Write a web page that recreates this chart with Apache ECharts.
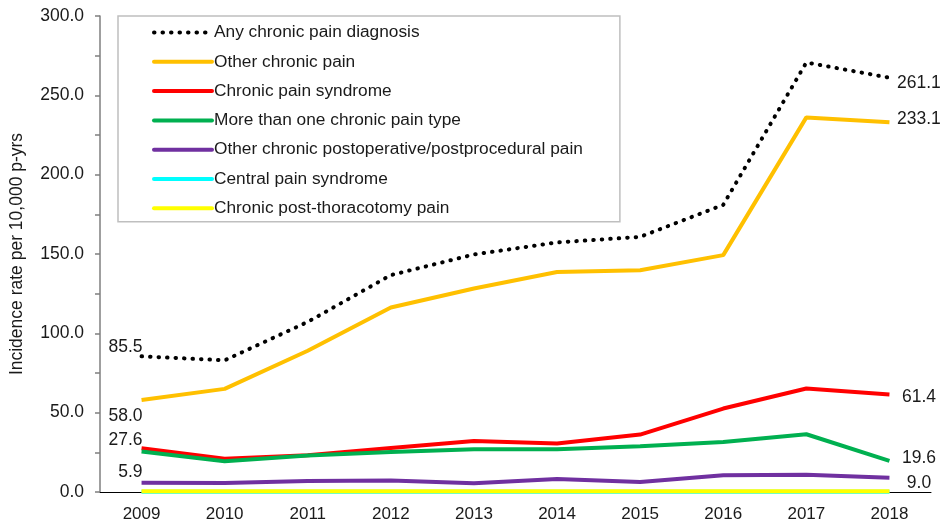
<!DOCTYPE html>
<html>
<head>
<meta charset="utf-8">
<script src="https://cdn.jsdelivr.net/npm/echarts@6/dist/echarts.min.js"></script>
<style>
  html, body { margin: 0; padding: 0; background: #fff; }
  #chart { width: 940px; height: 524px; }
</style>
</head>
<body>
<div id="chart"></div>
<script>
const years = ['2009', '2010', '2011', '2012', '2013', '2014', '2015', '2016', '2017', '2018'];
const anyChronic = [85.5, 83.0, 107.2, 136.7, 149.7, 157.3, 160.8, 181.0, 270.7, 261.1];
const otherChronic = [58.0, 65.0, 89.0, 116.3, 128.3, 138.7, 139.8, 149.3, 236.1, 233.1];
const painSyndrome = [27.6, 21.0, 23.1, 27.8, 32.2, 30.5, 36.2, 52.6, 65.2, 61.4];
const moreThanOne = [25.5, 19.4, 23.0, 25.2, 26.9, 26.9, 28.8, 31.5, 36.4, 19.6];
const postoperative = [5.9, 5.7, 6.9, 7.2, 5.5, 8.2, 6.3, 10.5, 10.8, 9.0];
const centralPain = [0.2, 0.2, 0.2, 0.2, 0.2, 0.2, 0.2, 0.2, 0.2, 0.2];
const postThoracotomy = [0.4, 0.4, 0.4, 0.4, 0.4, 0.4, 0.4, 0.4, 0.4, 0.4];

const names = ['Any chronic pain diagnosis', 'Other chronic pain', 'Chronic pain syndrome',
  'More than one chronic pain type', 'Other chronic postoperative/postprocedural pain',
  'Central pain syndrome', 'Chronic post-thoracotomy pain'];

const font = 'Liberation Sans, Arial, sans-serif';
const textColor = '#1a1a1a';

// labels on first / last point only
function withLabels(values, first, last) {
  return values.map(function (v, i) {
    if (i === 0 && first) {
      return { value: v, label: Object.assign({ show: true, formatter: v.toFixed(1) }, first) };
    }
    if (i === values.length - 1 && last) {
      return { value: v, label: Object.assign({ show: true, formatter: v.toFixed(1) }, last) };
    }
    return v;
  });
}

const startLabel = function (pos, dist) {
  return { position: pos, align: 'right', distance: dist, offset: [1, 0] };
};
const endLabel = function (dy) {
  return { position: 'right', align: 'center', distance: 29.5, offset: [0, dy] };
};

function lineSeries(name, color, data, extra) {
  return Object.assign({
    name: name,
    type: 'line',
    data: data,
    symbol: 'circle',
    symbolSize: 0.01,
    showSymbol: true,
    lineStyle: { color: color, width: 4 },
    itemStyle: { color: color },
    label: { show: false, color: textColor, fontFamily: font, fontSize: 17.5 },
    emphasis: { disabled: true },
    animation: false
  }, extra || {});
}

const myChart = echarts.init(document.getElementById('chart'));
const option = {
  textStyle: { fontFamily: font },
  grid: { left: 97, right: 9, top: 16, bottom: 32, containLabel: false },
  legend: {
    orient: 'vertical',
    left: 118,
    top: 16,
    data: names,
    itemWidth: 58,
    itemHeight: 14,
    itemGap: 12.3,
    padding: [8, 37, 5, 34],
    backgroundColor: '#fff',
    borderColor: '#bfbfbf',
    borderWidth: 1.5,
    borderRadius: 0,
    itemStyle: { opacity: 0 },
    lineStyle: { width: 4, cap: 'round' },
    textStyle: { color: textColor, fontSize: 17.3, fontFamily: font, padding: [0, 0, 0, -3] },
    selectedMode: false
  },
  xAxis: {
    type: 'category',
    data: years,
    boundaryGap: true,
    axisLine: { lineStyle: { color: '#000', width: 1 } },
    axisTick: { alignWithLabel: true, length: 5, lineStyle: { color: '#000' } },
    axisLabel: { color: textColor, fontSize: 17, fontFamily: font, margin: 14 }
  },
  yAxis: {
    type: 'value',
    min: 0,
    max: 300,
    interval: 50,
    name: 'Incidence rate per 10,000 p-yrs',
    nameLocation: 'middle',
    nameGap: 74,
    nameTextStyle: { color: textColor, fontSize: 17.5, fontFamily: font },
    axisLine: { show: true, lineStyle: { color: '#7f7f7f', width: 1.5 } },
    axisTick: { show: true, length: 5, lineStyle: { color: '#7f7f7f', width: 1.5 } },
    minorTick: { show: true, splitNumber: 2, length: 5, lineStyle: { color: '#7f7f7f', width: 1.5 } },
    splitLine: { show: false },
    axisLabel: {
      color: textColor, fontSize: 17.5, fontFamily: font, margin: 16,
      formatter: function (v) { return v.toFixed(1); }
    }
  },
  series: [
    lineSeries(names[0], '#000', withLabels(anyChronic, startLabel('top', 0), endLabel(5)), {
      lineStyle: { color: '#000', width: 4, type: [0.5, 8], cap: 'round' },
      z: 10
    }),
    lineSeries(names[1], '#FFC000', withLabels(otherChronic, startLabel('bottom', 7), endLabel(-3))),
    lineSeries(names[2], '#FF0000', withLabels(painSyndrome, startLabel('top', -1), endLabel(3))),
    lineSeries(names[3], '#00B050', withLabels(moreThanOne, null, endLabel(-3))),
    lineSeries(names[4], '#7030A0', withLabels(postoperative, startLabel('top', 1), endLabel(5))),
    lineSeries(names[5], '#00FFFF', centralPain),
    lineSeries(names[6], '#FFFF00', postThoracotomy)
  ]
};

myChart.setOption(option);
window.addEventListener('resize', function () {
  myChart.resize();
});
</script>
</body>
</html>
